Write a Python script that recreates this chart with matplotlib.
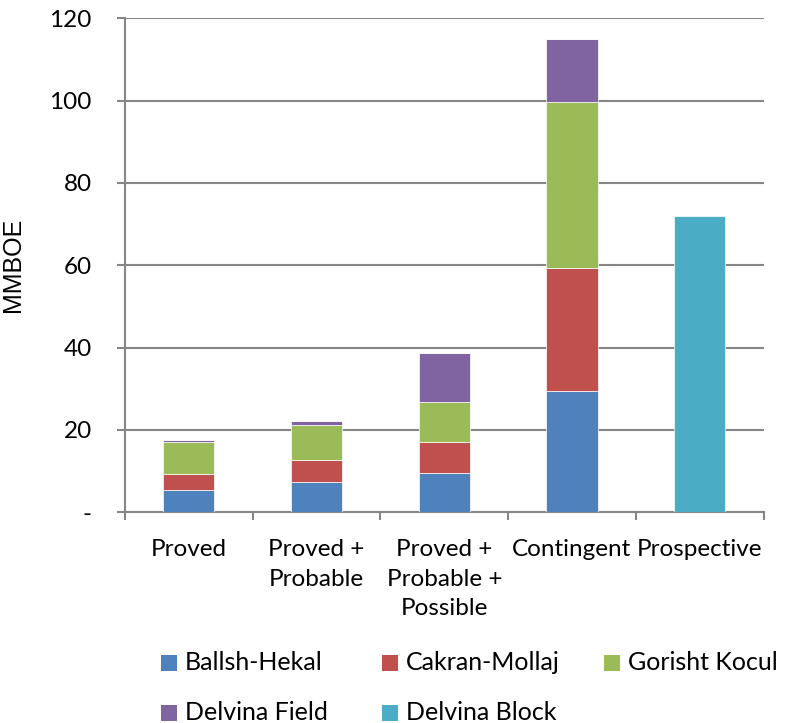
import matplotlib
matplotlib.use("Agg")
import matplotlib.pyplot as plt
from matplotlib.patches import Rectangle
import numpy as np

categories = ["Proved", "Proved +\nProbable", "Proved +\nProbable +\nPossible",
              "Contingent", "Prospective"]
ballsh_hekal = [5.5, 7.3, 9.6, 29.4, 0.0]
cakran_mollaj = [3.8, 5.3, 7.6, 30.0, 0.0]
gorisht_kocul = [7.8, 8.7, 9.6, 40.3, 0.0]
delvina_field = [0.5, 0.8, 12.0, 15.2, 0.0]
delvina_block = [0.0, 0.0, 0.0, 0.0, 71.9]

series_names = ["Ballsh-Hekal", "Cakran-Mollaj", "Gorisht Kocul",
                "Delvina Field", "Delvina Block"]
series_colors = ["#4F81BD", "#C0504D", "#9BBB59", "#8064A2", "#4BACC6"]
yticks = [0, 20, 40, 60, 80, 100, 120]
ytick_labels = ["-", "20", "40", "60", "80", "100", "120"]

GRID = "#868686"
TXT_FONT = ["Lato", "DejaVu Sans"]
W, H = 790, 723

fig = plt.figure(figsize=(W / 100, H / 100), dpi=100)
ax = fig.add_axes([0.1582, 0.2914, 0.8083, 0.6833])

x = np.arange(len(categories))
bottom = np.zeros(len(categories))
for vals, name, col in zip([ballsh_hekal, cakran_mollaj, gorisht_kocul,
                            delvina_field, delvina_block],
                           series_names, series_colors):
    vals = np.array(vals)
    ax.bar(x, vals, width=0.4, bottom=bottom, color=col, edgecolor="white",
           linewidth=0.5, zorder=3)
    bottom += vals

ax.set_xlim(-0.5, len(categories) - 0.5)
ax.set_ylim(0, 120)
ax.set_yticks(yticks)
ax.set_yticklabels(ytick_labels, fontfamily=TXT_FONT, fontsize=17.5)
ax.yaxis.grid(True, color=GRID, linewidth=1.5, zorder=0)
ax.set_axisbelow(True)

# category labels at centres, tick marks at boundaries
ax.set_xticks(x)
ax.set_xticklabels(categories, fontfamily=TXT_FONT, fontsize=17.5,
                   linespacing=1.52, va="top")
ax.set_xticks(np.arange(len(categories) + 1) - 0.5, minor=True)
ax.tick_params(axis="x", which="major", length=0, pad=19)
ax.tick_params(axis="x", which="minor", length=6, width=1.5, color=GRID,
               direction="out")
ax.tick_params(axis="y", length=6, width=1.5, color=GRID, direction="out", pad=18)

for side in ["top", "right"]:
    ax.spines[side].set_visible(False)
for side in ["left", "bottom"]:
    ax.spines[side].set_color(GRID)
    ax.spines[side].set_linewidth(1.5)

ax.set_ylabel("MMBOE", fontfamily=["Liberation Sans", "DejaVu Sans"],
              fontsize=18)
ax.yaxis.set_label_coords(-0.157, 0.5)

# legend laid out row by row in 3 columns (pixel positions from the top-left)
col_x = [161, 382, 604]
row_y = [663, 713]
box = 16
for i, (name, col) in enumerate(zip(series_names, series_colors)):
    px, py = col_x[i % 3], row_y[i // 3]
    fig.patches.append(Rectangle((px / W, (H - py - box / 2) / H), box / W, box / H,
                                 transform=fig.transFigure, facecolor=col,
                                 edgecolor="none"))
    fig.text((px + box + 8) / W, (H - py) / H, name, ha="left", va="center",
             fontfamily=TXT_FONT, fontsize=18)

fig.savefig("out.png", dpi=100)
